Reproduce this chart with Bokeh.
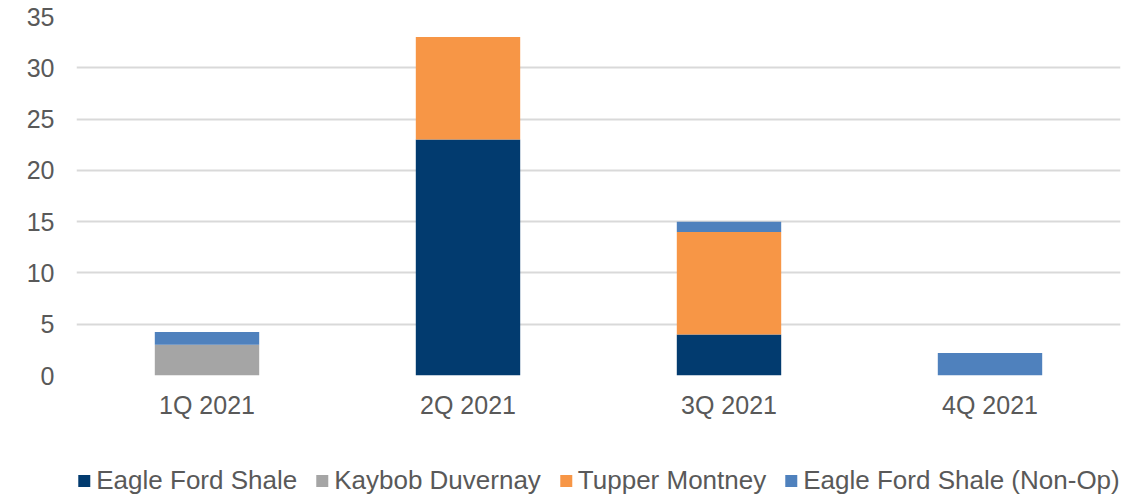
from bokeh.plotting import figure
from bokeh.layouts import column
from bokeh.models import (ColumnDataSource, FactorRange, Range1d, SingleIntervalTicker,
                          Legend, LegendItem)
from bokeh.embed import file_html
from bokeh.resources import INLINE

quarters = ["1Q 2021", "2Q 2021", "3Q 2021", "4Q 2021"]
series = ["Eagle Ford Shale", "Kaybob Duvernay", "Tupper Montney", "Eagle Ford Shale (Non-Op)"]
eagle_ford = [0, 23, 4, 0]
kaybob = [3, 0, 0, 0]
tupper = [0, 10, 10, 0]
eagle_nonop = [1.25, 0, 1, 2.2]
colors = ["#023B6F", "#A5A5A5", "#F79646", "#4F81BD"]

source = ColumnDataSource(data=dict(
    q=quarters,
    s0=eagle_ford, s1=kaybob, s2=tupper, s3=eagle_nonop,
))

p = figure(
    x_range=FactorRange(*quarters, range_padding=0),
    y_range=Range1d(0, 35),
    width=1122, height=435,
    output_backend="svg", toolbar_location=None,
    min_border_left=76, min_border_right=2, min_border_top=16, min_border_bottom=60,
)

p.vbar_stack(["s0", "s1", "s2", "s3"], x="q", width=0.4, source=source,
             color=colors, line_color=None)

font = "Liberation Sans"
p.outline_line_color = None
p.xgrid.grid_line_color = None
p.ygrid.grid_line_color = "#D9D9D9"
p.ygrid.grid_line_width = 2

p.yaxis.ticker = SingleIntervalTicker(interval=5)
for ax in (p.xaxis, p.yaxis):
    ax.axis_line_color = None
    ax.major_tick_line_color = None
    ax.minor_tick_line_color = None
    ax.major_label_text_font = font
    ax.major_label_text_font_size = "25px"
    ax.major_label_text_color = "#595959"
p.yaxis.major_label_standoff = 16
p.xaxis.major_label_standoff = 9

# legend strip below the chart; swatch renderers sit fully outside the visible range
lp = figure(width=1122, height=61, x_range=Range1d(0, 1), y_range=Range1d(0, 1),
            x_axis_type=None, y_axis_type=None,
            output_backend="svg", toolbar_location=None,
            min_border_left=0, min_border_right=0, min_border_top=0, min_border_bottom=0)
lp.outline_line_color = None
lp.xgrid.visible = False
lp.ygrid.visible = False
swatches = [lp.vbar(x=[-10], top=[-9], bottom=[-10], width=0.1, color=c, line_color=None)
            for c in colors]

lg = Legend(
    items=[LegendItem(label=s, renderers=[r]) for s, r in zip(series, swatches)],
    orientation="horizontal", location="bottom_center",
    label_text_font=font, label_text_font_size="26px", label_text_color="#595959",
    glyph_width=15, glyph_height=15, label_standoff=5, spacing=17,
    padding=0, margin=0, border_line_color=None, background_fill_alpha=0,
)
lp.add_layout(lg, "center")

layout = column(p, lp, spacing=0)
open("out.html", "w").write(file_html(layout, INLINE))
